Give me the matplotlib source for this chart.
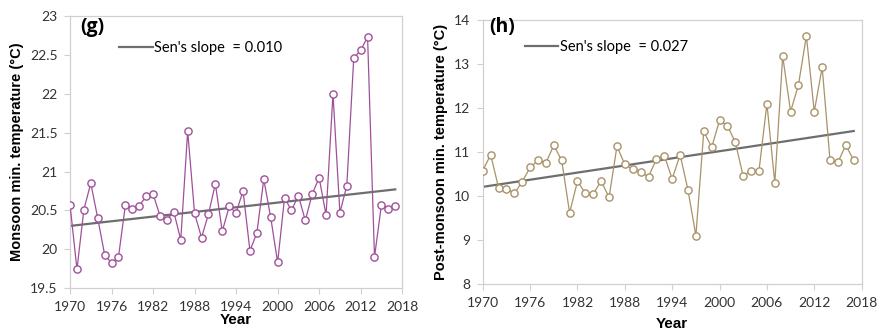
import numpy as np
import matplotlib.pyplot as plt
from matplotlib.lines import Line2D

years = np.arange(1970, 2018)

monsoon_min = [20.57, 19.74, 20.51, 20.85, 20.40, 19.93, 19.82, 19.90, 20.57, 20.52,
               20.56, 20.68, 20.71, 20.43, 20.38, 20.48, 20.12, 21.52, 20.46, 20.15,
               20.45, 20.84, 20.23, 20.55, 20.47, 20.75, 19.98, 20.21, 20.90, 20.41,
               19.83, 20.66, 20.50, 20.69, 20.37, 20.71, 20.92, 20.44, 22.00, 20.47,
               20.82, 22.46, 22.56, 22.73, 19.90, 20.57, 20.52, 20.56]

postmonsoon_min = [10.58, 10.94, 10.19, 10.17, 10.06, 10.33, 10.65, 10.81, 10.76, 11.15,
                   10.81, 9.62, 10.34, 10.06, 10.05, 10.34, 9.97, 11.13, 10.72, 10.61,
                   10.54, 10.44, 10.84, 10.92, 10.39, 10.94, 10.14, 9.10, 11.47, 11.11,
                   11.72, 11.60, 11.22, 10.45, 10.58, 10.58, 12.10, 10.30, 13.18, 11.92,
                   12.53, 13.64, 11.92, 12.93, 10.81, 10.77, 11.16, 10.81]

# Sen's slope and the trend value at 1970
sen_slope = [0.010, 0.027]
trend_1970 = [20.30, 10.21]

xticks = [1970, 1976, 1982, 1988, 1994, 2000, 2006, 2012, 2018]

tickfont = "Lato"
labfont = "Liberation Sans"
grey = "#6e6e6e"
spine_col = "#d0d0d0"

fig = plt.figure(figsize=(8.81, 3.35), dpi=100)
ax1 = fig.add_axes([0.0795, 0.140, 0.377, 0.812])
ax2 = fig.add_axes([0.548, 0.152, 0.430, 0.788])


def panel(ax, y, color, slope, y0, ylim, ystep, ylabel, tag, tag_xy, slopetxt, leg_xy, xlabpad):
    ax.plot(years, y, color=color, lw=0.9, marker="o", ms=5.2,
            mfc="white", mec=color, mew=1.0, zorder=3)
    trend = y0 + slope * (years - 1970)
    ax.plot(years, trend, color=grey, lw=1.6, zorder=2)
    ax.set_xlim(1970, 2018)
    ax.set_ylim(*ylim)
    ax.set_xticks(xticks)
    yt = np.arange(ylim[0], ylim[1] + ystep / 2, ystep)
    ax.set_yticks(yt)
    ax.set_yticklabels([f"{v:g}" for v in yt])
    for s in ax.spines.values():
        s.set_color(spine_col)
        s.set_linewidth(0.9)
    ax.tick_params(axis="both", direction="out", length=4, color=spine_col,
                   labelsize=10, labelcolor="#333333", pad=5)
    for lab in ax.get_xticklabels() + ax.get_yticklabels():
        lab.set_family(tickfont)
    ax.set_xlabel("Year", fontsize=11, fontweight="bold", family=labfont, labelpad=xlabpad)
    ax.set_ylabel(ylabel, fontsize=10.5, fontweight="bold", family=labfont, labelpad=4)
    ax.text(tag_xy[0], tag_xy[1], tag, transform=ax.transAxes, fontsize=14, fontweight="bold",
            family="Open Sans", va="top", ha="left")
    handle = Line2D([0], [0], color=grey, lw=1.6)
    ax.legend([handle], [slopetxt], loc="upper left", bbox_to_anchor=leg_xy,
              frameon=False, handlelength=2.3, handletextpad=0.1,
              prop={"family": tickfont, "size": 10.5}, borderaxespad=0)


panel(ax1, monsoon_min, "#a0509a", sen_slope[0], trend_1970[0], (19.5, 23), 0.5,
      "Monsoon min. temperature (°C)", "(g)", (0.03, 0.995),
      f"Sen's slope  = {sen_slope[0]:.3f}", (0.13, 0.93), 0)
panel(ax2, postmonsoon_min, "#a89268", sen_slope[1], trend_1970[1], (8, 14), 1,
      "Post-monsoon min. temperature (°C)", "(h)", (0.018, 1.01),
      f"Sen's slope  = {sen_slope[1]:.3f}", (0.095, 0.945), 6)

fig.savefig("out.png", dpi=100)
